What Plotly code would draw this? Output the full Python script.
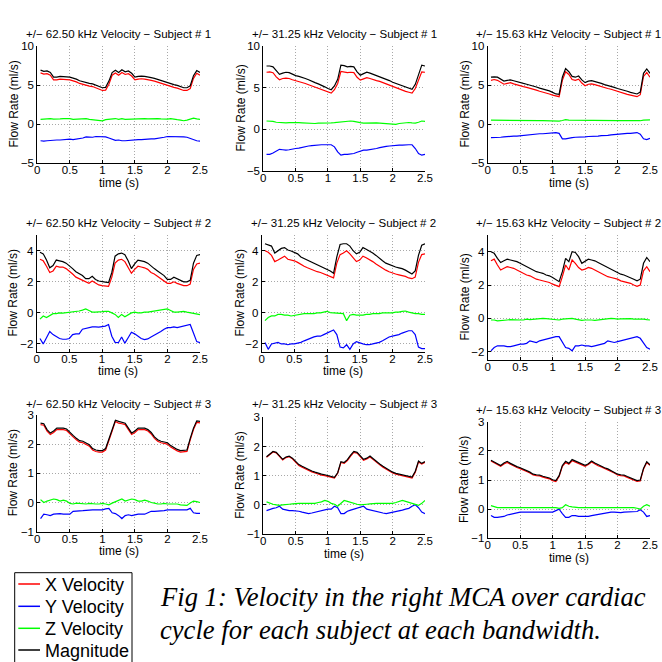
import plotly.graph_objects as go

W, H = 662, 662

# ---------------- data ----------------
TIME = [0.05, 0.10, 0.15, 0.20, 0.25, 0.30, 0.35, 0.40, 0.45, 0.50,
        0.55, 0.60, 0.65, 0.70, 0.75, 0.80, 0.85, 0.90, 0.95, 1.00,
        1.05, 1.10, 1.15, 1.20, 1.25, 1.30, 1.35, 1.40, 1.45, 1.50,
        1.55, 1.60, 1.65, 1.70, 1.75, 1.80, 1.85, 1.90, 1.95, 2.00,
        2.05, 2.10, 2.15, 2.20, 2.25, 2.30, 2.35, 2.40, 2.45, 2.50]

SERIES_NAMES = ["X Velocity", "Y Velocity", "Z Velocity", "Magnitude"]
BANDWIDTHS = ["62.50", "31.25", "15.63"]
SUBJECTS = [1, 2, 3]
X_TICKS = [0, 0.5, 1, 1.5, 2, 2.5]

# Subject 1, 62.50 kHz
X_62_S1 = [6.55, 6.4, 6.45, 6.25, 5.65, 5.65, 5.75, 5.75, 5.7, 5.65, 5.55, 5.4, 5.2, 5.05, 5.0, 4.85, 4.8, 4.65, 4.4, 4.3,
           4.35, 5.1, 6.25, 6.55, 6.25, 6.6, 6.35, 6.45, 6.15, 5.65, 5.75, 5.8, 5.75, 5.7, 5.6, 5.5, 5.35, 5.2, 5.05, 5.0,
           4.85, 4.7, 4.6, 4.4, 4.3, 4.3, 4.55, 5.85, 6.5, 6.25]
Y_62_S1 = [-2.15, -2.2, -2.15, -2.1, -2.1, -2.05, -2.05, -2.0, -2.0, -1.95, -2.0, -1.95, -1.9, -1.8, -1.65, -1.65, -1.7, -1.6, -1.6, -1.6,
           -1.65, -1.8, -2.0, -2.1, -2.05, -2.15, -2.15, -2.1, -2.05, -2.05, -2.0, -2.0, -1.95, -1.95, -1.9, -1.9, -1.85, -1.8, -1.7, -1.6,
           -1.6, -1.65, -1.6, -1.6, -1.65, -1.7, -1.85, -2.05, -2.15, -2.2]
Z_62_S1 = [0.6, 0.62, 0.65, 0.7, 0.62, 0.6, 0.65, 0.7, 0.72, 0.68, 0.6, 0.62, 0.65, 0.6, 0.68, 0.6, 0.55, 0.5, 0.45, 0.4,
           0.55, 0.6, 0.65, 0.7, 0.6, 0.68, 0.6, 0.62, 0.65, 0.7, 0.72, 0.68, 0.7, 0.65, 0.68, 0.72, 0.7, 0.65, 0.6, 0.62,
           0.7, 0.6, 0.55, 0.5, 0.42, 0.5, 0.65, 0.75, 0.65, 0.6]
M_62_S1 = [6.9, 6.75, 6.8, 6.6, 6.0, 6.0, 6.1, 6.1, 6.05, 6.0, 5.9, 5.75, 5.55, 5.4, 5.35, 5.2, 5.15, 5.0, 4.75, 4.65,
           4.7, 5.5, 6.6, 6.9, 6.6, 6.95, 6.7, 6.8, 6.5, 6.0, 6.1, 6.15, 6.1, 6.05, 5.95, 5.85, 5.7, 5.55, 5.4, 5.35,
           5.2, 5.05, 4.95, 4.75, 4.65, 4.65, 4.9, 6.2, 6.85, 6.6]

# Subject 1, 31.25 kHz
X_31_S1 = [6.85, 6.9, 6.8, 6.3, 5.95, 6.1, 6.15, 6.1, 5.95, 5.85, 5.75, 5.65, 5.5, 5.35, 5.2, 5.05, 4.95, 4.8, 4.65, 4.5,
           4.35, 4.75, 5.5, 6.95, 6.9, 6.8, 6.85, 6.8, 6.25, 5.9, 6.05, 6.2, 6.1, 5.95, 5.85, 5.75, 5.6, 5.45, 5.3, 5.1,
           5.0, 4.85, 4.7, 4.55, 4.45, 4.35, 4.9, 5.9, 6.9, 6.85]
Y_31_S1 = [-3.0, -3.0, -2.85, -2.6, -2.4, -2.45, -2.5, -2.45, -2.35, -2.3, -2.25, -2.15, -2.05, -2.0, -1.95, -1.9, -1.9, -1.85, -1.85, -1.85,
           -1.85, -2.1, -2.7, -3.1, -3.0, -3.0, -2.95, -2.9, -2.75, -2.6, -2.5, -2.5, -2.45, -2.35, -2.3, -2.2, -2.1, -2.05, -2.0, -1.95,
           -1.95, -1.9, -1.9, -1.85, -1.85, -1.85, -2.3, -2.9, -3.1, -3.0]
Z_31_S1 = [1.0, 1.0, 0.95, 0.85, 0.8, 0.75, 0.78, 0.8, 0.82, 0.8, 0.8, 0.78, 0.75, 0.7, 0.65, 0.7, 0.75, 0.78, 0.8, 0.82,
           0.78, 0.8, 0.85, 0.9, 0.95, 1.0, 1.0, 0.95, 0.85, 0.8, 0.75, 0.78, 0.8, 0.8, 0.78, 0.75, 0.72, 0.7, 0.7, 0.65,
           0.6, 0.7, 0.75, 0.8, 0.82, 0.78, 0.75, 0.85, 1.0, 0.95]
M_31_S1 = [7.6, 7.6, 7.5, 7.0, 6.6, 6.75, 6.85, 6.8, 6.6, 6.45, 6.35, 6.25, 6.1, 5.95, 5.75, 5.6, 5.45, 5.3, 5.1, 4.9,
           4.75, 5.2, 6.0, 7.7, 7.65, 7.5, 7.55, 7.5, 6.9, 6.5, 6.7, 6.85, 6.75, 6.6, 6.45, 6.35, 6.2, 6.05, 5.85, 5.65,
           5.5, 5.35, 5.2, 5.05, 4.9, 4.8, 5.4, 6.5, 7.7, 7.6]

# Subject 1, 15.63 kHz
X_15_S1 = [5.6, 5.7, 5.6, 5.3, 5.1, 5.2, 5.3, 5.15, 5.0, 4.9, 4.8, 4.7, 4.6, 4.5, 4.35, 4.2, 4.1, 4.0, 3.85, 3.7,
           3.55, 3.5, 5.6, 6.7, 6.35, 5.7, 5.6, 5.75, 5.25, 4.9, 5.1, 5.15, 5.05, 4.9, 4.8, 4.65, 4.55, 4.45, 4.3, 4.15,
           4.05, 3.9, 3.8, 3.7, 3.6, 3.5, 3.75, 6.1, 6.6, 6.0]
Y_15_S1 = [-1.75, -1.75, -1.7, -1.7, -1.65, -1.6, -1.6, -1.55, -1.55, -1.5, -1.45, -1.45, -1.4, -1.35, -1.3, -1.25, -1.25, -1.2, -1.2, -1.15,
           -1.1, -1.2, -1.9, -1.9, -1.8, -1.75, -1.7, -1.7, -1.65, -1.65, -1.6, -1.6, -1.55, -1.55, -1.5, -1.5, -1.45, -1.4, -1.35, -1.3,
           -1.25, -1.25, -1.2, -1.2, -1.15, -1.1, -1.3, -1.9, -2.0, -1.85]
Z_15_S1 = [0.5, 0.5, 0.52, 0.5, 0.48, 0.5, 0.52, 0.5, 0.5, 0.48, 0.47, 0.46, 0.45, 0.45, 0.44, 0.43, 0.42, 0.4, 0.4, 0.38,
           0.37, 0.38, 0.45, 0.55, 0.5, 0.5, 0.52, 0.5, 0.5, 0.48, 0.5, 0.52, 0.5, 0.48, 0.47, 0.46, 0.45, 0.45, 0.44, 0.43,
           0.42, 0.42, 0.41, 0.4, 0.4, 0.38, 0.42, 0.5, 0.55, 0.52]
M_15_S1 = [6.0, 6.05, 6.0, 5.7, 5.5, 5.6, 5.65, 5.55, 5.4, 5.3, 5.2, 5.1, 5.0, 4.9, 4.75, 4.6, 4.5, 4.4, 4.25, 4.05,
           3.85, 3.8, 6.0, 7.1, 6.7, 6.1, 6.0, 6.15, 5.65, 5.3, 5.5, 5.55, 5.45, 5.3, 5.2, 5.05, 4.95, 4.85, 4.7, 4.55,
           4.45, 4.3, 4.2, 4.05, 3.95, 3.85, 4.1, 6.5, 7.05, 6.5]

# Subject 2, 62.50 kHz
X_62_S2 = [3.45, 3.35, 3.0, 2.6, 2.7, 3.0, 2.95, 2.95, 2.85, 2.7, 2.5, 2.3, 2.2, 2.05, 1.95, 1.9, 2.05, 1.9, 1.8, 1.75,
           1.72, 1.7, 2.3, 3.2, 3.4, 3.45, 3.3, 2.95, 2.55, 2.8, 3.0, 2.95, 2.9, 2.8, 2.6, 2.5, 2.35, 2.2, 2.1, 1.9,
           1.9, 2.0, 1.9, 1.85, 1.75, 1.75, 1.85, 2.8, 3.15, 3.2]
Y_62_S2 = [-1.65, -2.0, -1.6, -1.2, -1.4, -1.55, -1.65, -1.7, -1.7, -1.65, -1.4, -1.35, -1.35, -1.05, -1.0, -0.95, -0.9, -0.9, -0.92, -0.88,
           -0.85, -0.75, -1.5, -1.9, -1.92, -1.55, -1.95, -1.6, -1.25, -1.35, -1.5, -1.65, -1.72, -1.68, -1.55, -1.45, -1.3, -1.2, -1.05, -0.95,
           -0.95, -0.9, -0.95, -0.9, -0.85, -0.8, -0.75, -1.3, -1.85, -1.92]
Z_62_S2 = [-0.4, -0.2, -0.3, -0.15, -0.05, -0.05, 0.0, -0.02, 0.0, 0.02, 0.05, 0.1, 0.12, 0.18, 0.25, 0.15, 0.05, 0.05, 0.05, 0.08,
           0.1, 0.1, 0.0, -0.1, -0.3, -0.1, -0.25, -0.1, 0.0, 0.05, 0.0, 0.0, 0.05, 0.05, 0.08, 0.1, 0.12, 0.15, 0.2, 0.25,
           0.15, 0.05, 0.05, 0.08, 0.1, 0.05, 0.0, -0.05, -0.1, -0.12]
M_62_S2 = [3.9, 3.8, 3.4, 2.9, 3.05, 3.4, 3.35, 3.3, 3.2, 3.05, 2.85, 2.65, 2.55, 2.4, 2.2, 2.2, 2.35, 2.15, 2.05, 2.0,
           1.98, 1.95, 2.6, 3.65, 3.8, 3.85, 3.75, 3.35, 2.85, 3.15, 3.4, 3.35, 3.3, 3.2, 3.0, 2.85, 2.7, 2.55, 2.4, 2.15,
           2.15, 2.3, 2.2, 2.1, 2.0, 2.0, 2.1, 3.2, 3.7, 3.75]

# Subject 2, 31.25 kHz
X_31_S2 = [4.0, 3.9, 3.7, 3.3, 3.4, 3.55, 3.65, 3.45, 3.4, 3.35, 3.25, 3.1, 3.0, 2.9, 2.8, 2.7, 2.65, 2.6, 2.5, 2.45,
           2.35, 2.25, 3.2, 3.75, 3.85, 4.0, 3.8, 3.55, 3.3, 3.4, 3.65, 3.55, 3.45, 3.3, 3.15, 3.0, 2.9, 2.75, 2.65, 2.55,
           2.5, 2.45, 2.4, 2.35, 2.25, 2.2, 2.3, 3.25, 3.75, 3.8]
Y_31_S2 = [-1.9, -2.35, -2.0, -1.95, -1.9, -2.0, -2.0, -2.05, -2.0, -2.0, -1.95, -1.9, -1.8, -1.7, -1.6, -1.55, -1.5, -1.5, -1.4, -1.3,
           -1.2, -1.1, -1.4, -2.2, -2.25, -2.05, -2.35, -2.0, -1.85, -1.95, -2.0, -2.05, -2.05, -2.0, -1.95, -1.9, -1.8, -1.65, -1.55, -1.5,
           -1.45, -1.4, -1.3, -1.25, -1.15, -1.15, -1.4, -2.2, -2.3, -2.3]
Z_31_S2 = [-0.5, -0.3, -0.2, -0.2, -0.1, -0.1, -0.15, -0.15, -0.2, -0.15, -0.1, -0.1, -0.05, -0.05, -0.05, -0.05, 0.0, 0.0, 0.05, 0.1,
           0.02, 0.0, -0.05, -0.05, -0.05, -0.5, -0.15, -0.1, -0.15, -0.15, -0.15, -0.1, -0.1, -0.05, -0.05, -0.05, 0.0, 0.0, 0.0, 0.0,
           0.05, 0.05, 0.1, 0.12, 0.05, 0.0, -0.05, -0.05, -0.1, -0.1]
M_31_S2 = [4.45, 4.4, 4.3, 3.85, 4.0, 4.15, 4.2, 4.05, 3.98, 3.9, 3.8, 3.6, 3.5, 3.4, 3.3, 3.2, 3.15, 3.05, 2.95, 2.85,
           2.7, 2.55, 3.6, 4.4, 4.45, 4.45, 4.3, 4.0, 3.8, 3.9, 4.2, 4.1, 4.0, 3.85, 3.7, 3.5, 3.35, 3.2, 3.1, 3.0,
           2.95, 2.9, 2.85, 2.75, 2.65, 2.5, 2.7, 3.7, 4.35, 4.45]

# Subject 2, 15.63 kHz
X_15_S2 = [3.45, 3.55, 3.2, 2.9, 3.0, 3.1, 3.05, 3.0, 2.9, 2.8, 2.7, 2.6, 2.55, 2.45, 2.35, 2.3, 2.25, 2.2, 2.15, 2.05,
           1.95, 1.9, 2.5, 3.2, 2.9, 3.5, 3.3, 3.05, 2.9, 2.95, 3.05, 3.0, 2.9, 2.8, 2.7, 2.6, 2.5, 2.45, 2.4, 2.35,
           2.25, 2.2, 2.15, 2.1, 2.0, 1.92, 2.0, 2.85, 3.1, 2.8]
Y_15_S2 = [-1.95, -1.75, -1.65, -1.65, -1.65, -1.7, -1.7, -1.65, -1.6, -1.55, -1.55, -1.5, -1.35, -1.4, -1.45, -1.35, -1.3, -1.25, -1.2, -1.15,
           -1.1, -1.1, -1.45, -1.75, -1.8, -1.95, -1.65, -1.65, -1.6, -1.65, -1.65, -1.7, -1.65, -1.6, -1.55, -1.5, -1.35, -1.4, -1.45, -1.4,
           -1.35, -1.3, -1.25, -1.2, -1.15, -1.1, -1.2, -1.5, -1.75, -1.85]
Z_15_S2 = [-0.1, -0.1, -0.15, -0.12, -0.1, -0.1, -0.08, -0.1, -0.12, -0.1, -0.1, -0.05, -0.08, -0.05, -0.05, -0.03, 0.0, -0.02, -0.03, -0.05,
           -0.08, -0.1, -0.05, -0.02, 0.0, 0.0, -0.05, -0.1, -0.12, -0.1, -0.08, -0.1, -0.12, -0.1, -0.05, -0.05, -0.03, 0.0, -0.02, -0.05,
           -0.03, -0.02, 0.0, -0.02, -0.05, -0.05, -0.03, -0.05, -0.08, -0.1]
M_15_S2 = [4.0, 3.9, 3.6, 3.35, 3.45, 3.55, 3.5, 3.45, 3.4, 3.3, 3.2, 3.1, 3.0, 2.9, 2.8, 2.75, 2.7, 2.6, 2.55, 2.45,
           2.3, 2.2, 2.8, 3.6, 3.4, 4.0, 3.95, 3.7, 3.3, 3.4, 3.55, 3.5, 3.45, 3.35, 3.25, 3.1, 3.0, 2.9, 2.8, 2.75,
           2.65, 2.6, 2.5, 2.45, 2.35, 2.25, 2.35, 3.3, 3.65, 3.4]

# Subject 3, 62.50 kHz
X_62_S3 = [2.67, 2.65, 2.45, 2.33, 2.4, 2.5, 2.5, 2.5, 2.47, 2.35, 2.25, 2.15, 2.07, 2.05, 2.0, 1.93, 1.8, 1.75, 1.73, 1.73,
           1.8, 2.1, 2.45, 2.78, 2.72, 2.7, 2.67, 2.5, 2.33, 2.4, 2.5, 2.5, 2.5, 2.45, 2.35, 2.2, 2.1, 2.05, 2.03, 2.0,
           1.9, 1.83, 1.77, 1.73, 1.73, 1.75, 2.15, 2.5, 2.75, 2.73]
Y_62_S3 = [-0.55, -0.4, -0.42, -0.45, -0.4, -0.38, -0.38, -0.4, -0.4, -0.4, -0.3, -0.3, -0.3, -0.28, -0.27, -0.25, -0.25, -0.25, -0.25, -0.25,
           -0.22, -0.2, -0.35, -0.38, -0.45, -0.55, -0.45, -0.42, -0.45, -0.42, -0.4, -0.4, -0.4, -0.35, -0.3, -0.3, -0.3, -0.3, -0.28, -0.25,
           -0.25, -0.25, -0.25, -0.25, -0.25, -0.25, -0.2, -0.35, -0.37, -0.37]
Z_62_S3 = [0.1, 0.0, 0.05, 0.08, 0.12, 0.1, 0.05, 0.08, 0.05, -0.03, -0.05, -0.02, -0.03, -0.05, -0.05, -0.03, -0.05, -0.05, -0.05, -0.03,
           -0.05, -0.08, -0.02, 0.02, 0.08, 0.12, 0.05, 0.08, 0.12, 0.1, 0.05, 0.05, 0.08, 0.05, 0.0, -0.02, -0.05, -0.05, -0.03, -0.05,
           -0.05, -0.03, -0.05, -0.08, -0.1, -0.1, -0.02, 0.05, 0.03, 0.0]
M_62_S3 = [2.72, 2.7, 2.5, 2.38, 2.45, 2.55, 2.55, 2.55, 2.52, 2.4, 2.3, 2.2, 2.12, 2.1, 2.05, 1.98, 1.85, 1.8, 1.78, 1.78,
           1.85, 2.15, 2.5, 2.82, 2.78, 2.75, 2.72, 2.55, 2.38, 2.45, 2.55, 2.55, 2.55, 2.5, 2.4, 2.25, 2.15, 2.1, 2.08, 2.05,
           1.95, 1.88, 1.82, 1.78, 1.78, 1.8, 2.2, 2.55, 2.8, 2.78]

# Subject 3, 31.25 kHz
X_31_S3 = [1.63, 1.73, 1.81, 1.78, 1.65, 1.54, 1.62, 1.65, 1.58, 1.45, 1.35, 1.29, 1.23, 1.17, 1.13, 1.09, 1.05, 1.02, 1.0, 0.97,
           0.95, 0.92, 1.08, 1.45, 1.42, 1.52, 1.67, 1.8, 1.77, 1.65, 1.53, 1.57, 1.64, 1.55, 1.45, 1.37, 1.29, 1.22, 1.15, 1.09,
           1.05, 1.02, 1.0, 0.97, 0.95, 0.92, 1.12, 1.47, 1.4, 1.46]
Y_31_S3 = [-0.2, -0.15, -0.12, -0.1, -0.05, -0.15, -0.18, -0.2, -0.2, -0.2, -0.22, -0.25, -0.28, -0.3, -0.28, -0.25, -0.22, -0.2, -0.18, -0.15,
           -0.15, -0.05, -0.1, -0.3, -0.3, -0.22, -0.18, -0.15, -0.12, -0.1, -0.05, -0.15, -0.18, -0.2, -0.22, -0.25, -0.28, -0.3, -0.28, -0.25,
           -0.22, -0.2, -0.18, -0.15, -0.12, -0.05, 0.0, -0.1, -0.25, -0.3]
Z_31_S3 = [0.1, 0.05, 0.02, 0.0, -0.02, 0.0, 0.02, 0.02, 0.03, 0.05, 0.05, 0.05, 0.05, 0.05, 0.05, 0.05, 0.08, 0.1, 0.15, 0.12,
           0.05, 0.02, -0.05, 0.05, 0.15, 0.12, 0.08, 0.05, 0.02, 0.0, 0.0, 0.02, 0.03, 0.05, 0.05, 0.05, 0.05, 0.05, 0.05, 0.05,
           0.08, 0.12, 0.15, 0.12, 0.08, 0.05, 0.02, -0.02, 0.05, 0.15]
M_31_S3 = [1.65, 1.75, 1.83, 1.8, 1.67, 1.56, 1.64, 1.67, 1.6, 1.48, 1.38, 1.32, 1.26, 1.2, 1.16, 1.12, 1.08, 1.05, 1.03, 1.0,
           0.98, 0.94, 1.1, 1.48, 1.45, 1.55, 1.7, 1.83, 1.8, 1.68, 1.56, 1.6, 1.67, 1.58, 1.48, 1.4, 1.32, 1.25, 1.18, 1.12,
           1.08, 1.05, 1.03, 1.0, 0.98, 0.95, 1.15, 1.5, 1.42, 1.48]

# Subject 3, 15.63 kHz
X_15_S3 = [1.65, 1.58, 1.54, 1.47, 1.55, 1.6, 1.54, 1.47, 1.43, 1.39, 1.35, 1.29, 1.24, 1.17, 1.15, 1.14, 1.1, 1.07, 1.04, 0.98,
           0.95, 1.12, 1.47, 1.6, 1.54, 1.66, 1.62, 1.57, 1.52, 1.47, 1.53, 1.62, 1.55, 1.49, 1.45, 1.39, 1.35, 1.29, 1.24, 1.17,
           1.15, 1.14, 1.09, 1.04, 0.99, 0.95, 0.97, 1.37, 1.6, 1.5]
Y_15_S3 = [-0.22, -0.28, -0.28, -0.27, -0.25, -0.2, -0.17, -0.15, -0.12, -0.1, -0.1, -0.1, -0.1, -0.12, -0.12, -0.1, -0.1, -0.1, -0.1, -0.1,
           -0.05, 0.0, -0.15, -0.28, -0.28, -0.22, -0.22, -0.25, -0.25, -0.25, -0.25, -0.22, -0.2, -0.18, -0.15, -0.12, -0.1, -0.1, -0.1, -0.12,
           -0.12, -0.1, -0.1, -0.08, -0.08, -0.08, -0.02, -0.1, -0.25, -0.22]
Z_15_S3 = [0.12, 0.08, 0.05, 0.05, 0.05, 0.05, 0.05, 0.06, 0.05, 0.05, 0.05, 0.05, 0.05, 0.06, 0.05, 0.05, 0.05, 0.04, 0.04, 0.05,
           0.05, 0.03, 0.05, 0.15, 0.1, 0.08, 0.06, 0.05, 0.05, 0.05, 0.06, 0.05, 0.05, 0.05, 0.05, 0.04, 0.04, 0.05, 0.05, 0.05,
           0.04, 0.04, 0.04, 0.05, 0.05, 0.03, 0.0, 0.1, 0.15, 0.1]
M_15_S3 = [1.68, 1.62, 1.57, 1.5, 1.58, 1.64, 1.57, 1.5, 1.46, 1.42, 1.38, 1.32, 1.27, 1.2, 1.18, 1.17, 1.13, 1.1, 1.07, 1.01,
           0.98, 1.15, 1.5, 1.64, 1.57, 1.7, 1.65, 1.6, 1.55, 1.5, 1.56, 1.65, 1.58, 1.52, 1.48, 1.42, 1.38, 1.32, 1.27, 1.2,
           1.18, 1.17, 1.12, 1.07, 1.02, 0.98, 1.0, 1.4, 1.63, 1.52]

Y_RANGES = [[-5, 10], [-2.5, 5], [-1, 3]]
Y_TICKS = [[-5, 0, 5, 10], [-2, 0, 2, 4], [-1, 0, 1, 2, 3]]

PANEL_DATA = [
    [(X_62_S1, Y_62_S1, Z_62_S1, M_62_S1), (X_31_S1, Y_31_S1, Z_31_S1, M_31_S1), (X_15_S1, Y_15_S1, Z_15_S1, M_15_S1)],
    [(X_62_S2, Y_62_S2, Z_62_S2, M_62_S2), (X_31_S2, Y_31_S2, Z_31_S2, M_31_S2), (X_15_S2, Y_15_S2, Z_15_S2, M_15_S2)],
    [(X_62_S3, Y_62_S3, Z_62_S3, M_62_S3), (X_31_S3, Y_31_S3, Z_31_S3, M_31_S3), (X_15_S3, Y_15_S3, Z_15_S3, M_15_S3)],
]

# ---------------- layout (pixel boxes: left, right, top, bottom) ----------------
BOXES = [
    [(37.3, 200, 46, 163), (263.3, 425, 46, 171), (487.7, 650, 46, 163)],
    [(36.7, 200, 235.2, 351.7), (261.7, 425, 235.2, 351.7), (487.7, 650, 235, 360)],
    [(37.3, 200, 415, 531.7), (263.3, 425, 417.3, 534), (487.7, 650, 421.7, 538.3)],
]
TITLE_Y = [[34, 34, 34], [223, 223, 223], [404, 404, 410]]
SHOW_XTITLE = [[True, False, True], [True, True, False], [True, True, True]]
YLABEL_X = [13, 240, 464]

COLORS = ["#ff0000", "#0000ff", "#00ff00", "#000000"]
FONT = "Liberation Sans, Arial, Helvetica, sans-serif"

# legend geometry (pixels)
LEG_BOX = (14.7, 132, 572.7, 700)
LEG_ROWS = [584, 606.3, 628.3, 650]
LEG_LINE_X = (18.3, 40)
LEG_TEXT_X = 42.5


def px(x):
    return x / W


def py(y):
    return 1 - y / H


fig = go.Figure()
annotations = []
shapes = []
layout = {}
n = 0
for r in range(3):
    for c in range(3):
        n += 1
        suffix = "" if n == 1 else str(n)
        l, rr, t, b = BOXES[r][c]
        for k, series in enumerate(PANEL_DATA[r][c]):
            fig.add_trace(go.Scatter(
                x=TIME[:len(series)], y=series, mode="lines",
                name=SERIES_NAMES[k], showlegend=False,
                line=dict(color=COLORS[k], width=1.2),
                xaxis="x" + suffix, yaxis="y" + suffix,
                hoverinfo="skip",
            ))
        common = dict(
            showline=True, linecolor="black", linewidth=1,
            ticks="inside", ticklen=3, tickcolor="black",
            showgrid=True, gridcolor="#a8a8a8", griddash="1px,2px", gridwidth=1,
            zeroline=False, mirror=False,
            tickfont=dict(family=FONT, size=11.5, color="black"),
        )
        layout["xaxis" + suffix] = dict(
            common, domain=[px(l), px(rr)], range=[0, 2.5],
            tickvals=X_TICKS, ticktext=[f"{v:g}" for v in X_TICKS],
            anchor="y" + suffix, ticklabelstandoff=-4,
        )
        layout["yaxis" + suffix] = dict(
            common, domain=[py(b), py(t)], range=Y_RANGES[r],
            tickvals=Y_TICKS[r], anchor="x" + suffix,
        )
        cx = (l + rr) / 2
        annotations.append(dict(
            text=f"+/\u2212 {BANDWIDTHS[c]} kHz Velocity \u2212 Subject # {SUBJECTS[r]}",
            x=px(cx), y=py(TITLE_Y[r][c]), xref="paper", yref="paper",
            xanchor="center", yanchor="middle", showarrow=False,
            font=dict(family=FONT, size=11.5, color="black"),
        ))
        annotations.append(dict(
            text="Flow Rate (ml/s)", textangle=-90,
            x=px(YLABEL_X[c]), y=py((t + b) / 2), xref="paper", yref="paper",
            xanchor="center", yanchor="middle", showarrow=False,
            font=dict(family=FONT, size=12, color="black"),
        ))
        if SHOW_XTITLE[r][c]:
            annotations.append(dict(
                text="time (s)",
                x=px(cx), y=py(b + 19.5), xref="paper", yref="paper",
                xanchor="center", yanchor="middle", showarrow=False,
                font=dict(family=FONT, size=12, color="black"),
            ))

# legend (boxed key, lower left)
shapes.append(dict(type="rect", xref="paper", yref="paper",
                   x0=px(LEG_BOX[0]), x1=px(LEG_BOX[1]), y0=py(LEG_BOX[3]), y1=py(LEG_BOX[2]),
                   line=dict(color="black", width=1), fillcolor="white", layer="above"))
for k, name in enumerate(SERIES_NAMES):
    shapes.append(dict(type="line", xref="paper", yref="paper",
                       x0=px(LEG_LINE_X[0]), x1=px(LEG_LINE_X[1]),
                       y0=py(LEG_ROWS[k]), y1=py(LEG_ROWS[k]),
                       line=dict(color=COLORS[k], width=1.5), layer="above"))
    annotations.append(dict(
        text=name, x=px(LEG_TEXT_X), y=py(LEG_ROWS[k] + 1), xref="paper", yref="paper",
        xanchor="left", yanchor="middle", showarrow=False,
        font=dict(family=FONT, size=18, color="black"),
    ))

CAPTION_1 = "Fig 1: Velocity in the right MCA over cardiac"
CAPTION_2 = "cycle for each subject at each bandwidth."
for text, yy in [(CAPTION_1, 597), (CAPTION_2, 630)]:
    annotations.append(dict(
        text=f"<i>{text}</i>", x=px(158), y=py(yy), xref="paper", yref="paper",
        xanchor="left", yanchor="middle", showarrow=False,
        font=dict(family="Liberation Serif, Times New Roman, serif", size=26.6, color="black"),
    ))

fig.update_layout(
    width=W, height=H, margin=dict(l=0, r=0, t=0, b=0, autoexpand=False),
    paper_bgcolor="white", plot_bgcolor="white",
    showlegend=False,
    annotations=annotations, shapes=shapes,
    **layout,
)

fig.write_html("out.html", config={"displayModeBar": False},
               post_script="document.body.style.margin='0';")
